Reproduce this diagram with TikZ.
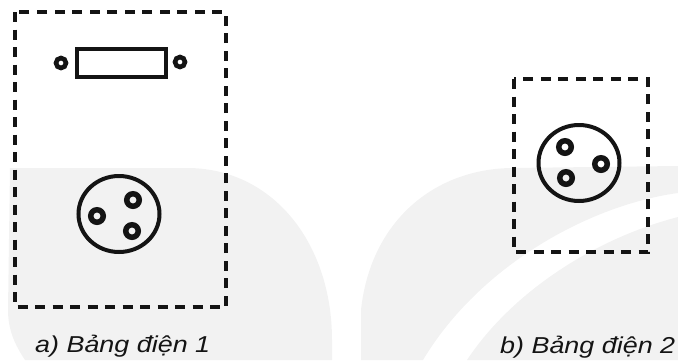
\documentclass[tikz,border=0pt]{standalone}
\usetikzlibrary{shapes.geometric}
\usepackage{fontspec}
\usepackage{graphicx}
\setmainfont{Liberation Sans}
\definecolor{wm}{HTML}{F2F2F2}
\definecolor{ink}{HTML}{141414}
\tikzset{x=1pt,y=-1pt,
 frame/.style={draw=ink,line width=4pt,dash pattern=on 10pt off 7.5pt},
 fusebox/.style={draw=ink,line width=4pt,minimum width=89pt,minimum height=28pt,inner sep=0pt},
 socket/.style={ellipse,draw=ink,line width=4pt,minimum width=81pt,minimum height=76pt,inner sep=0pt},
 pin/.style={circle,draw=ink,line width=5.5pt,minimum size=12.5pt,inner sep=0pt},
 smallpin/.style={circle,draw=ink,line width=4.6pt,minimum size=10pt,inner sep=0pt},
 caption/.style={font=\fontsize{23}{27}\selectfont\itshape,text=ink,inner sep=0pt}}
\begin{document}
\begin{tikzpicture}
\useasboundingbox (0,0) rectangle (678,360);
\fill[wm] (10,168) -- (190,168) .. controls (275,170) and (332,245) .. (332,340) -- (332,360) -- (25,360) .. controls (15,345) and (8,330) .. (8,310) -- cycle;
\fill[wm] (361,360) -- (361,310) .. controls (370,225) and (430,170) .. (510,168) -- (678,166) -- (678,193) .. controls (590,205) and (480,265) .. (423,360) -- cycle;
\fill[wm] (467,360) .. controls (510,295) and (590,240) .. (678,217) -- (678,360) -- cycle;
\draw[frame] (15,12) rectangle (226,307);
\draw[frame] (514,79) rectangle (648,252);
\node[fusebox] (fuse) at (121,63) {};
\node[smallpin] (fl) at (61,63) {};
\node[smallpin] (fr) at (180,62) {};
\node[socket] (s1) at (119,214) {};
\node[pin] (p1) at (97,216) {};
\node[pin] (p2) at (133,200) {};
\node[pin] (p3) at (132,231) {};
\node[socket] (s2) at (579,163) {};
\node[pin] (q1) at (565,147) {};
\node[pin] (q2) at (601,164) {};
\node[pin] (q3) at (566,178) {};
\node[caption,anchor=base west] (ca) at (35,352) {\scalebox{1.17}[1]{a) Bảng điện 1}};
\node[caption,anchor=base west] (cb) at (500,353) {\scalebox{1.17}[1]{b) Bảng điện 2}};
\end{tikzpicture}
\end{document}
